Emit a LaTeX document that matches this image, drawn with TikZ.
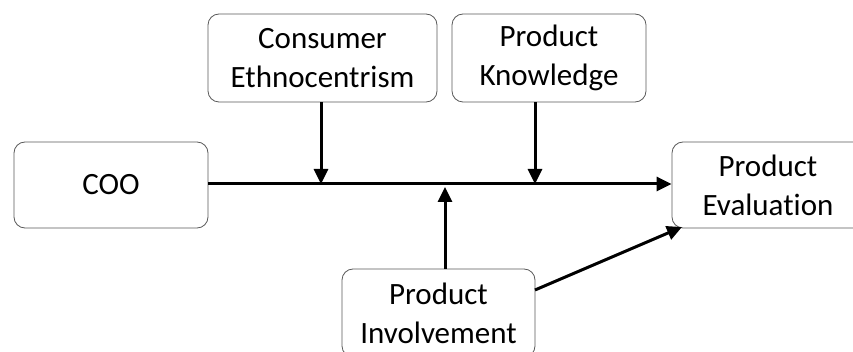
\documentclass[tikz,border=0pt]{standalone}
\usepackage{fontspec}
\setmainfont{Carlito}[Ligatures={NoCommon}]
\usetikzlibrary{arrows.meta}
\begin{document}
\begin{tikzpicture}[x=1pt,y=-1pt,
  box/.style={draw=black!65, line width=0.8pt, rounded corners=11pt, fill=white,
    align=center, inner sep=0pt, font=\fontsize{31}{39}\selectfont, text=black},
  arr/.style={line width=3pt, -{Triangle[length=15pt,width=14pt]}}]
\useasboundingbox (0,0) rectangle (853,352);
\begin{scope}
\clip (0,0) rectangle (853,352);
\node[box, minimum width=194pt, minimum height=86pt] (coo) at (111,185) {COO};
\node[box, minimum width=229pt, minimum height=88pt] (ce) at (322.5,58) {Consumer\\Ethnocentrism};
\node[box, minimum width=194pt, minimum height=88pt] (pk) at (549,58) {Product\\Knowledge};
\node[box, minimum width=192pt, minimum height=86pt] (pe) at (768,185) {Product\\Evaluation};
\node[box, minimum width=193pt, minimum height=88pt] (pi) at (438.5,313) {Product\\Involvement};
\end{scope}
\coordinate (m1) at (321,184);
\coordinate (m2) at (535,184);
\coordinate (m3) at (445,187);
\coordinate (p1) at (535,290);
\coordinate (p2) at (682,227);
\draw[arr] (coo.east |- m1) -- (pe.west |- m1);
\draw[arr] (ce.south -| m1) -- (m1);
\draw[arr] (pk.south -| m2) -- (m2);
\draw[arr] (pi.north -| m3) -- (m3);
\draw[arr] (p1) -- (p2);
\end{tikzpicture}
\end{document}
